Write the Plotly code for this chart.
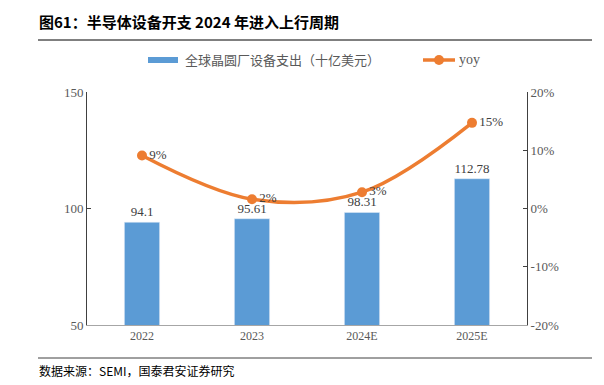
import plotly.graph_objects as go

categories = ["2022", "2023", "2024E", "2025E"]
spend = [94.1, 95.61, 98.31, 112.78]
yoy = [9.1, 1.6, 2.8, 14.7]
yoy_labels = ["9%", "2%", "3%", "15%"]
left_ticks = [50, 100, 150]
right_ticks = [-20, -10, 0, 10, 20]
right_tick_text = ["-20%", "-10%", "0%", "10%", "20%"]

SERIF = "Liberation Serif, Times New Roman, serif"
CJK = "Noto Sans CJK SC"
BAR_COLOR = "#5B9BD5"
LINE_COLOR = "#ED7D31"

W, H = 604, 385
OFF = 8  # page body margin offset
# plot area in screen pixels: x 87..527, y 92..325
L = 87 - OFF
T = 92 - OFF
R = W - (527 - OFF)
B = H - (325 - OFF)
PW, PH = W - L - R, H - T - B


def px(x):
    return (x - OFF - L) / PW


def py(y):
    return (H - B - (y - OFF)) / PH


fig = go.Figure()
fig.add_trace(go.Bar(
    x=categories, y=spend, name="全球晶圆厂设备支出（十亿美元）",
    marker=dict(color=BAR_COLOR), width=0.32,
    text=[f"{v:g}" for v in spend], textposition="outside",
    textfont=dict(family=SERIF, size=13, color="#404040"),
    cliponaxis=False, showlegend=False,
))
fig.add_trace(go.Scatter(
    x=categories, y=yoy, name="yoy", yaxis="y2",
    mode="lines+markers+text",
    line=dict(color=LINE_COLOR, width=3.5, shape="spline", smoothing=1.0),
    marker=dict(color=LINE_COLOR, size=10),
    text=yoy_labels, textposition="middle right",
    textfont=dict(family=SERIF, size=13, color="#404040"),
    cliponaxis=False, showlegend=False,
))

fig.update_layout(
    width=W, height=H,
    margin=dict(l=L, r=R, t=T, b=B, autoexpand=False),
    plot_bgcolor="white", paper_bgcolor="white",
    showlegend=False,
    xaxis=dict(showline=True, linecolor="#A6A6A6", linewidth=1, ticks="",
               tickfont=dict(family=SERIF, size=12, color="#595959")),
    yaxis=dict(range=[50, 150], tickvals=left_ticks, showgrid=False, zeroline=False,
               showline=True, linecolor="#404040", linewidth=1,
               ticks="inside", ticklen=4, tickcolor="#404040",
               tickfont=dict(family=SERIF, size=13, color="#595959")),
    yaxis2=dict(range=[-20, 20], tickvals=right_ticks, ticktext=right_tick_text,
                overlaying="y", side="right", showgrid=False, zeroline=False,
                showline=True, linecolor="#404040", linewidth=1,
                ticks="inside", ticklen=4, tickcolor="#404040",
                tickfont=dict(family=SERIF, size=13, color="#595959")),
)

# custom legend
fig.add_shape(type="rect", xref="paper", yref="paper",
              x0=px(148), x1=px(178), y0=py(63), y1=py(57),
              fillcolor=BAR_COLOR, line=dict(width=0))
fig.add_annotation(xref="paper", yref="paper", x=px(183), y=py(60), xanchor="left", yanchor="middle",
                   text="全球晶圆厂设备支出（十亿美元）", showarrow=False,
                   font=dict(family=CJK, size=13, color="#595959"))
fig.add_shape(type="line", xref="paper", yref="paper",
              x0=px(423), x1=px(455), y0=py(60), y1=py(60),
              line=dict(color=LINE_COLOR, width=3.5))
fig.add_shape(type="circle", xref="paper", yref="paper",
              x0=px(434), x1=px(444), y0=py(65), y1=py(55),
              fillcolor=LINE_COLOR, line=dict(width=0))
fig.add_annotation(xref="paper", yref="paper", x=px(457), y=py(60), xanchor="left", yanchor="middle",
                   text="yoy", showarrow=False,
                   font=dict(family=SERIF, size=14, color="#595959"))

# title, rules, source
fig.add_annotation(xref="paper", yref="paper", x=px(37), y=py(22), xanchor="left", yanchor="middle",
                   text="<b>图61：半导体设备开支 2024 年进入上行周期</b>", showarrow=False,
                   font=dict(family=CJK, size=15, color="#000000"))
fig.add_shape(type="line", xref="paper", yref="paper", x0=px(38), x1=px(592), y0=py(40), y1=py(40),
              line=dict(color="#000000", width=1))
fig.add_shape(type="line", xref="paper", yref="paper", x0=px(38), x1=px(592), y0=py(358), y1=py(358),
              line=dict(color="#404040", width=1))
fig.add_annotation(xref="paper", yref="paper", x=px(37), y=py(370), xanchor="left", yanchor="middle",
                   text="数据来源：SEMI，国泰君安证券研究", showarrow=False,
                   font=dict(family=CJK, size=12, color="#000000"))

fig.write_html("out.html")
